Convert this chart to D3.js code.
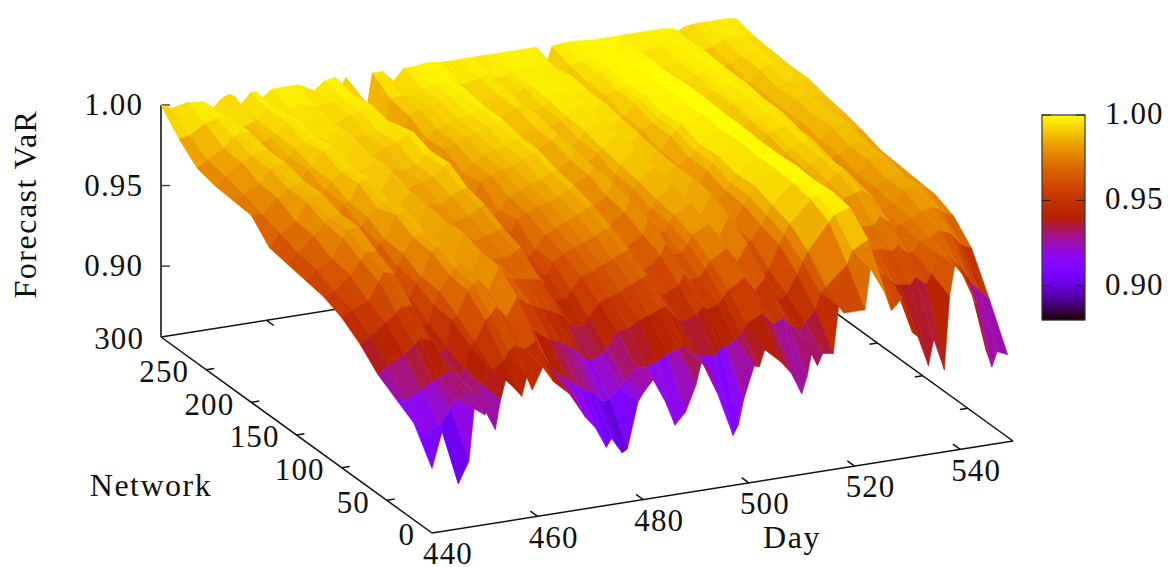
<!DOCTYPE html>
<html>
<head>
<meta charset="utf-8">
<script src="https://cdn.jsdelivr.net/npm/d3@7"></script>
<style>
  html, body { margin: 0; padding: 0; background: #fff; }
  text { font-family: "Liberation Serif", serif; font-size: 31px; fill: #111; letter-spacing: 1.1px; }
  text.title { font-size: 32px; letter-spacing: 1.5px; }
</style>
</head>
<body>
<div id="chart"></div>
<script>
// one row per day, one column per network level in zValues
const networks = [0, 20, 40, 60, 80, 100, 120, 140, 160, 180, 200, 220, 240, 260, 280, 300];
const days = [440, 442, 445, 447, 448, 450, 451, 452, 453, 454, 455, 457, 458, 459, 461, 463, 466, 469, 471, 473, 474, 475, 476, 477, 479, 480, 482, 484, 486, 488, 490, 491, 493, 494, 497, 498, 499, 501, 502, 503, 506, 508, 510, 511, 512, 513, 514, 516, 517, 518, 522, 523, 526, 527, 528, 529, 531, 532, 534, 535, 537, 538, 539, 541, 543, 545, 546, 547, 549];
const zValues = [
  [.896,.916,.923,.930,.941,.949,.954,.956,.958,.960,.972,.973,.974,.977,.987,1.00],
  [.919,.908,.921,.934,.945,.953,.957,.962,.964,.968,.972,.976,.979,.981,.988,.997],
  [.884,.912,.926,.940,.952,.957,.965,.967,.973,.974,.980,.981,.986,.987,.994,.999],
  [.897,.921,.930,.945,.957,.968,.973,.979,.980,.985,.985,.989,.989,.993,.996,.998],
  [.929,.926,.932,.948,.960,.973,.977,.983,.983,.987,.987,.991,.991,.995,.997,.998],
  [.924,.929,.935,.946,.959,.971,.977,.984,.984,.988,.988,.991,.991,.994,.995,.993],
  [.930,.930,.933,.939,.949,.959,.963,.970,.972,.978,.979,.983,.984,.989,.992,.997],
  [.914,.927,.931,.938,.945,.953,.957,.965,.967,.973,.975,.980,.981,.986,.988,.999],
  [.932,.933,.935,.941,.947,.955,.959,.966,.969,.975,.977,.981,.982,.987,.989,1.00],
  [.944,.944,.949,.957,.958,.964,.966,.972,.974,.980,.981,.985,.985,.989,.990,.998],
  [.940,.942,.951,.959,.966,.967,.973,.974,.980,.981,.986,.986,.990,.990,.991,.992],
  [.932,.946,.963,.973,.975,.981,.982,.988,.984,.991,.990,.995,.992,.997,.996,.999],
  [.944,.952,.966,.977,.979,.984,.984,.989,.987,.993,.991,.996,.994,.998,.996,.999],
  [.935,.954,.970,.979,.981,.985,.985,.990,.988,.993,.992,.996,.995,.998,.995,.994],
  [.948,.951,.963,.971,.974,.974,.978,.978,.983,.984,.989,.988,.992,.992,.994,.999],
  [.938,.955,.974,.985,.986,.990,.989,.991,.990,.994,.994,.997,.996,.999,.997,.999],
  [.929,.936,.952,.965,.971,.972,.977,.977,.982,.983,.988,.987,.991,.991,.993,.999],
  [.913,.928,.945,.958,.966,.970,.974,.978,.980,.986,.985,.991,.990,.995,.995,.994],
  [.905,.923,.942,.955,.965,.970,.976,.980,.984,.988,.988,.993,.992,.996,.996,.999],
  [.892,.918,.938,.952,.964,.973,.978,.984,.987,.993,.992,.997,.996,.999,.997,1.00],
  [.897,.917,.936,.950,.963,.975,.979,.985,.988,.995,.994,.998,.995,.991,.984,.993],
  [.892,.913,.932,.948,.960,.967,.969,.975,.977,.982,.983,.986,.987,.991,.993,.999],
  [.887,.910,.928,.942,.954,.961,.964,.971,.973,.978,.979,.983,.984,.988,.989,.992],
  [.889,.912,.928,.940,.949,.956,.959,.966,.969,.975,.976,.980,.979,.982,.981,.983],
  [.917,.918,.930,.940,.949,.956,.959,.966,.969,.974,.974,.978,.977,.979,.978,.979],
  [.922,.922,.934,.945,.954,.963,.963,.973,.971,.980,.978,.984,.983,.989,.991,.999],
  [.930,.929,.943,.953,.961,.967,.971,.976,.978,.983,.983,.987,.988,.992,.992,.999],
  [.916,.928,.944,.955,.963,.970,.974,.979,.981,.986,.987,.990,.990,.993,.991,.992],
  [.899,.930,.948,.958,.966,.972,.977,.981,.984,.987,.989,.991,.992,.995,.994,.999],
  [.906,.934,.950,.961,.969,.975,.980,.983,.986,.990,.991,.994,.994,.997,.996,.999],
  [.922,.936,.953,.964,.972,.978,.983,.987,.989,.993,.993,.996,.996,.999,.997,1.00],
  [.935,.938,.954,.965,.973,.979,.984,.988,.990,.994,.994,.997,.997,.999,.998,1.00],
  [.928,.932,.946,.954,.962,.967,.973,.975,.980,.981,.986,.986,.990,.991,.994,.999],
  [.915,.930,.943,.951,.959,.965,.971,.973,.979,.980,.985,.985,.989,.990,.993,.999],
  [.887,.928,.946,.956,.966,.971,.977,.979,.984,.985,.989,.989,.993,.993,.995,.999],
  [.893,.932,.950,.962,.973,.980,.984,.987,.988,.991,.992,.995,.995,.998,.997,.999],
  [.908,.933,.948,.958,.965,.970,.976,.977,.983,.984,.988,.988,.992,.992,.994,.999],
  [.928,.936,.950,.959,.966,.971,.972,.976,.977,.983,.984,.988,.989,.993,.994,.999],
  [.927,.940,.954,.964,.971,.976,.977,.981,.982,.987,.987,.991,.991,.995,.995,.999],
  [.937,.945,.958,.968,.976,.980,.982,.985,.987,.989,.992,.993,.995,.996,.996,.999],
  [.928,.950,.964,.974,.981,.986,.989,.992,.995,.996,.998,.998,1.00,.999,.998,.999],
  [.920,.942,.955,.965,.972,.977,.980,.984,.985,.988,.991,.993,.995,.996,.996,.999],
  [.906,.945,.962,.974,.984,.989,.991,.991,.992,.994,.996,.997,.998,.998,.997,.999],
  [.916,.940,.955,.966,.976,.981,.981,.985,.985,.990,.991,.995,.995,.997,.995,.999],
  [.932,.938,.950,.957,.968,.969,.974,.975,.980,.982,.987,.987,.991,.990,.989,.988],
  [.922,.936,.947,.954,.965,.967,.972,.973,.978,.980,.985,.985,.990,.989,.988,.988],
  [.929,.940,.950,.957,.967,.969,.974,.975,.981,.982,.987,.987,.992,.992,.994,.998],
  [.928,.947,.961,.971,.975,.980,.981,.985,.985,.990,.990,.994,.994,.997,.996,.999],
  [.957,.957,.968,.977,.981,.985,.985,.989,.989,.993,.993,.996,.995,.998,.997,.999],
  [.952,.960,.974,.983,.987,.991,.990,.993,.992,.996,.995,.998,.997,.999,.998,.999],
  [.952,.972,.990,.996,.998,.999,.999,1.00,.999,1.00,1.00,1.00,1.00,.999,.999,.998],
  [.977,.980,.994,.998,.999,1.00,1.00,1.00,1.00,1.00,1.00,1.00,1.00,.999,.999,.998],
  [.959,.985,.997,.999,.998,.999,.998,.998,.999,.999,1.00,1.00,.999,.999,.998,.998],
  [.949,.972,.984,.986,.990,.987,.988,.986,.989,.990,.993,.993,.996,.996,.997,.998],
  [.952,.965,.976,.977,.981,.978,.981,.982,.985,.986,.989,.990,.993,.994,.996,.998],
  [.956,.962,.970,.972,.977,.977,.980,.982,.985,.986,.989,.990,.993,.994,.996,.998],
  [.933,.955,.968,.973,.981,.983,.986,.988,.991,.992,.994,.994,.996,.996,.997,.998],
  [.930,.954,.968,.974,.984,.986,.989,.990,.993,.993,.995,.995,.997,.997,.997,.998],
  [.911,.953,.966,.974,.986,.990,.992,.993,.995,.995,.997,.997,.998,.998,.998,.998],
  [.927,.957,.969,.979,.987,.992,.992,.995,.995,.997,.997,.998,.998,.999,.998,.998],
  [.907,.952,.963,.974,.982,.985,.986,.990,.991,.994,.994,.996,.996,.997,.997,.997],
  [.952,.958,.963,.970,.975,.978,.979,.983,.985,.988,.989,.991,.990,.992,.993,.995],
  [.971,.970,.970,.972,.974,.976,.976,.980,.981,.984,.984,.985,.985,.988,.990,.997],
  [.962,.967,.971,.975,.976,.978,.978,.982,.983,.985,.985,.986,.986,.989,.992,.998],
  [.945,.961,.974,.978,.983,.982,.986,.986,.990,.989,.991,.990,.993,.993,.995,.998],
  [.914,.951,.971,.979,.985,.984,.988,.987,.991,.990,.992,.992,.995,.995,.996,.998],
  [.904,.946,.967,.978,.984,.983,.987,.986,.990,.989,.991,.992,.995,.995,.996,.998],
  [.913,.943,.963,.975,.982,.980,.984,.984,.988,.988,.991,.991,.994,.994,.995,.998],
  [.910,.936,.960,.972,.977,.978,.979,.980,.984,.987,.989,.992,.992,.993,.994,.997]
];
const dayTicks = [440, 460, 480, 500, 520, 540];
const networkTicks = [0, 50, 100, 150, 200, 250, 300];
const zTicks = [0.90, 0.95, 1.00];

const width = 1171, height = 567;
const svg = d3.select("#chart").append("svg").attr("width", width).attr("height", height);

// gnuplot style projection: the three data axes each add a screen offset
const dayX = d3.scaleLinear().domain([440, 550]).range([0, 581]);
const dayY = d3.scaleLinear().domain([440, 550]).range([0, -92]);
const netX = d3.scaleLinear().domain([0, 300]).range([432, 161]);
const netY = d3.scaleLinear().domain([0, 300]).range([533, 337]);
const zY = d3.scaleLinear().domain([0.856, 1]).range([0, -232]);
const project = (d, n, z) => [dayX(d) + netX(n), dayY(d) + netY(n) + zY(z)];

// default pm3d palette, rgbformulae 7,5,15
function palette(t) {
  t = Math.max(0, Math.min(1, t));
  const r = Math.sqrt(t), g = t * t * t, b = Math.max(0, Math.sin(2 * Math.PI * t));
  return d3.rgb(255 * r, 255 * g, 255 * b).formatHex();
}
const color = d3.scaleSequential(palette).domain([0.88, 1]);

const axisColor = "#111";
const base = svg.append("g").attr("stroke", axisColor).attr("stroke-width", 1.5).attr("fill", "none");
const seg = (g, a, b) => g.append("line").attr("x1", a[0]).attr("y1", a[1]).attr("x2", b[0]).attr("y2", b[1]);

// base plane edges
seg(base, project(440, 0, 0.856), project(550, 0, 0.856));
seg(base, project(440, 0, 0.856), project(440, 300, 0.856));
seg(base, project(440, 300, 0.856), project(550, 300, 0.856));
seg(base, project(550, 0, 0.856), project(550, 300, 0.856));
// ticks, mirrored on the far edges
dayTicks.slice(1).forEach(d => {
  seg(base, project(d, 0, 0.856), project(d, 8, 0.856));
  seg(base, project(d, 300, 0.856), project(d, 292, 0.856));
});
networkTicks.slice(1, -1).forEach(n => {
  seg(base, project(440, n, 0.856), project(441.5, n, 0.856));
  seg(base, project(550, n, 0.856), project(548.5, n, 0.856));
});
// z axis
const zAxisX = project(440, 300, 0.856)[0];
svg.append("line").attr("x1", zAxisX).attr("x2", zAxisX)
  .attr("y1", project(440, 300, 0.856)[1]).attr("y2", project(440, 300, 1)[1])
  .attr("stroke", "#444").attr("stroke-width", 2);
zTicks.forEach(z => {
  const p = project(440, 300, z);
  seg(base, p, [p[0] + 9, p[1]]).attr("stroke", "#444");
  svg.append("text").attr("x", p[0] - 18).attr("y", p[1]).attr("dy", "0.33em")
    .attr("text-anchor", "end").text(d3.format(".2f")(z));
});

// surface, far cells first
const cells = [];
for (let j = networks.length - 2; j >= 0; j--) {
  for (let i = days.length - 2; i >= 0; i--) {
    const corners = [[i, j], [i + 1, j], [i + 1, j + 1], [i, j + 1]];
    const pts = corners.map(c => project(days[c[0]], networks[c[1]], zValues[c[0]][c[1]]));
    cells.push({pts, z: d3.mean(corners, c => zValues[c[0]][c[1]])});
  }
}
svg.append("g").selectAll("path").data(cells).join("path")
  .attr("d", d => "M" + d.pts.join("L") + "Z")
  .attr("fill", d => color(d.z))
  .attr("stroke", d => color(d.z))
  .attr("stroke-width", 0.6)
  .attr("stroke-linejoin", "round");

// tick labels on the base plane
dayTicks.forEach(d => {
  const p = project(d, 0, 0.856);
  svg.append("text").attr("x", p[0] + 16).attr("y", p[1] + 21)
    .attr("dy", "0.33em").attr("text-anchor", "middle").text(d);
});
networkTicks.forEach(n => {
  const p = project(440, n, 0.856);
  svg.append("text").attr("x", p[0] - 17).attr("y", p[1] + 2)
    .attr("dy", "0.33em").attr("text-anchor", "end").text(n);
});

// axis titles
svg.append("text").attr("class", "title").attr("x", 151).attr("y", 485).attr("dy", "0.33em").attr("text-anchor", "middle").text("Network");
svg.append("text").attr("class", "title").attr("x", 792).attr("y", 537).attr("dy", "0.33em").attr("text-anchor", "middle").text("Day");
svg.append("text").attr("class", "title").attr("transform", "translate(25,204) rotate(-90)").attr("dy", "0.33em")
  .attr("text-anchor", "middle").text("Forecast VaR");

// colour box
const cbY = d3.scaleLinear().domain([0.88, 1]).range([320, 115]);
const cb = svg.append("g");
cb.selectAll("rect").data(d3.range(115, 320)).join("rect")
  .attr("x", 1042).attr("width", 43).attr("y", d => d).attr("height", 1.2)
  .attr("fill", d => color(cbY.invert(d + 0.5)));
cb.append("rect").attr("x", 1042).attr("y", 115).attr("width", 43).attr("height", 205)
  .attr("fill", "none").attr("stroke", "#333").attr("stroke-width", 1.2);
zTicks.forEach(z => {
  const y = cbY(z);
  seg(cb, [1042, y], [1051, y]).attr("stroke", "#222").attr("stroke-width", 1);
  seg(cb, [1076, y], [1085, y]).attr("stroke", "#222").attr("stroke-width", 1);
  cb.append("text").attr("x", 1105).attr("y", y - 1.5).attr("dy", "0.33em").text(d3.format(".2f")(z));
});
</script>
</body>
</html>
